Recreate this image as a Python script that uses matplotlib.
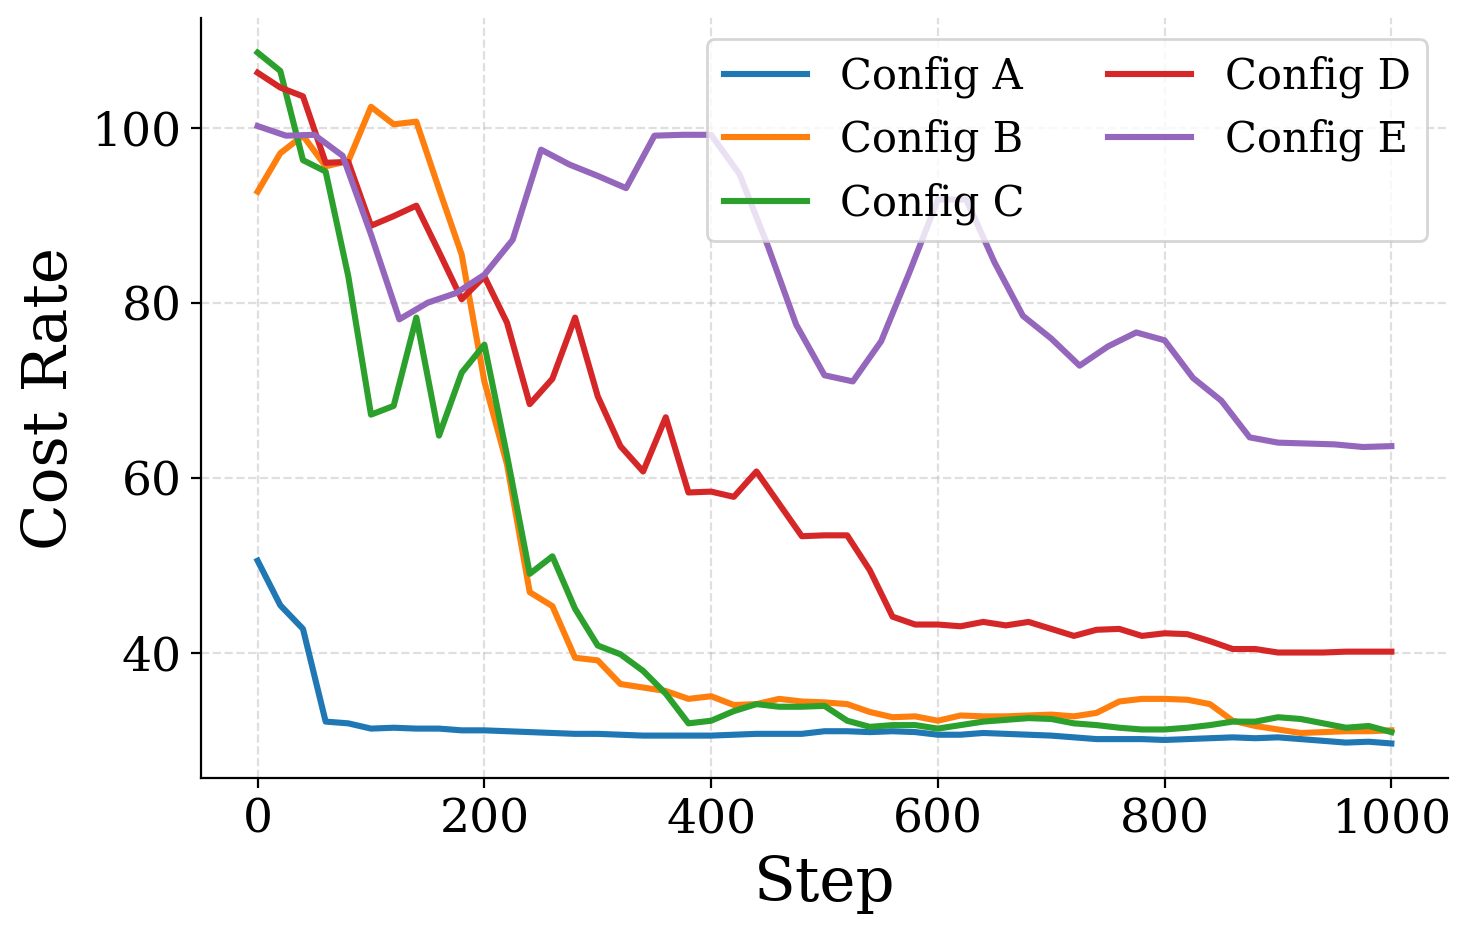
import numpy as np
import matplotlib
matplotlib.use("Agg")
import matplotlib.pyplot as plt

plt.rcParams['font.family'] = 'serif'

steps = np.arange(0, 1001, 20)
steps_e = np.arange(0, 1001, 25)

config_a = [50.5, 45.4, 42.7, 32.1, 31.9, 31.3, 31.4, 31.3, 31.3, 31.1,
            31.1, 31.0, 30.9, 30.8, 30.7, 30.7, 30.6, 30.5, 30.5, 30.5,
            30.5, 30.6, 30.7, 30.7, 30.7, 31.0, 31.0, 30.9, 31.0, 30.9,
            30.6, 30.6, 30.8, 30.7, 30.6, 30.5, 30.3, 30.1, 30.1, 30.1,
            30.0, 30.1, 30.2, 30.3, 30.2, 30.3, 30.1, 29.9, 29.7, 29.8,
            29.6]
config_b = [92.7, 97.1, 99.1, 95.6, 96.2, 102.4, 100.4, 100.7, 93.0, 85.5,
            71.0, 61.5, 46.9, 45.3, 39.4, 39.1, 36.4, 36.0, 35.6, 34.7,
            35.0, 34.0, 34.1, 34.7, 34.4, 34.3, 34.1, 33.2, 32.6, 32.7,
            32.2, 32.8, 32.7, 32.7, 32.8, 32.9, 32.7, 33.1, 34.4, 34.7,
            34.7, 34.6, 34.1, 32.2, 31.6, 31.2, 30.8, 30.9, 31.0, 31.0,
            31.1]
config_c = [108.6, 106.5, 96.3, 95.0, 83.0, 67.2, 68.2, 78.3, 64.8, 72.0,
            75.2, 62.5, 49.0, 51.0, 45.0, 40.8, 39.8, 37.9, 35.3, 31.9,
            32.2, 33.3, 34.1, 33.8, 33.8, 33.9, 32.2, 31.5, 31.7, 31.7,
            31.3, 31.7, 32.1, 32.3, 32.5, 32.4, 31.9, 31.7, 31.4, 31.2,
            31.2, 31.4, 31.7, 32.1, 32.1, 32.6, 32.4, 31.9, 31.4, 31.6,
            30.9]
config_d = [106.3, 104.6, 103.6, 96.0, 96.1, 88.8, 89.9, 91.1, 85.8, 80.4,
            83.0, 77.7, 68.4, 71.3, 78.3, 69.3, 63.6, 60.7, 66.9, 58.3,
            58.4, 57.8, 60.7, 57.0, 53.3, 53.4, 53.4, 49.4, 44.1, 43.2,
            43.2, 43.0, 43.5, 43.1, 43.5, 42.7, 41.9, 42.6, 42.7, 41.9,
            42.2, 42.1, 41.3, 40.4, 40.4, 40.0, 40.0, 40.0, 40.1, 40.1,
            40.1]
config_e = [100.2, 99.1, 99.2, 96.8, 87.8, 78.1, 80.0, 81.1, 83.2, 87.2,
            97.5, 95.8, 94.5, 93.1, 99.1, 99.2, 99.2, 94.7, 86.5, 77.5,
            71.7, 71.0, 75.6, 83.5, 91.8, 91.8, 84.6, 78.5, 75.9, 72.8,
            75.0, 76.6, 75.7, 71.4, 68.8, 64.6, 64.0, 63.9, 63.8, 63.5,
            63.6]

fig = plt.figure(figsize=(7.355, 4.675), dpi=200)
ax = fig.add_axes([0.1366, 0.1679, 0.8478, 0.8128])

ax.plot(steps, config_a, color='#1f77b4', lw=2.2, label='Config A')
ax.plot(steps, config_b, color='#ff7f0e', lw=2.2, label='Config B')
ax.plot(steps, config_c, color='#2ca02c', lw=2.2, label='Config C')
ax.plot(steps, config_d, color='#d62728', lw=2.2, label='Config D')
ax.plot(steps_e, config_e, color='#9467bd', lw=2.2, label='Config E')

ax.set_xlabel('Step', fontsize=22)
ax.set_ylabel('Cost Rate', fontsize=22)
ax.tick_params(labelsize=17)
ax.set_yticks([40, 60, 80, 100])
ax.grid(True, linestyle='--', alpha=0.4)
ax.spines['top'].set_visible(False)
ax.spines['right'].set_visible(False)
ax.legend(loc='upper right', ncol=2, fontsize=15)

fig.savefig('out.png', dpi=200)
